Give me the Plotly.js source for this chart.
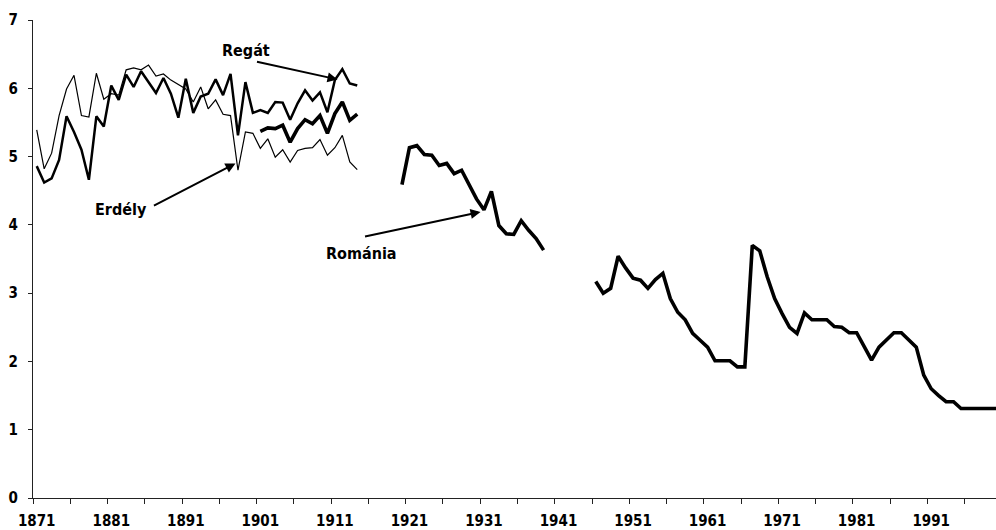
<!DOCTYPE html>
<html>
<head>
<meta charset="utf-8">
<script src="https://cdn.plot.ly/plotly-3.0.1.min.js"></script>
<style>
html,body{margin:0;padding:0;overflow:hidden;background:#fff;}
#chart{width:1007px;height:530px;}
</style>
</head>
<body>
<div id="chart"></div>
<script>
// Data
const startYearEarly = 1871;
const regat = [4.86,4.62,4.68,4.95,5.59,5.36,5.10,4.66,5.59,5.44,
  6.04,5.83,6.20,6.02,6.25,6.09,5.93,6.15,5.92,5.57,
  6.14,5.64,5.88,5.92,6.13,5.90,6.21,5.31,6.09,5.64,
  5.68,5.64,5.80,5.79,5.54,5.78,5.97,5.82,5.94,5.65,
  6.12,6.28,6.07,6.04];
const erdely = [5.39,4.82,5.05,5.60,5.99,6.19,5.60,5.58,6.22,5.84,
  5.92,5.90,6.27,6.30,6.27,6.34,6.18,6.21,6.12,6.05,
  5.99,5.80,6.02,5.70,5.83,5.62,5.60,4.80,5.36,5.34,
  5.12,5.26,4.99,5.10,4.92,5.09,5.12,5.13,5.25,5.02,
  5.13,5.31,4.92,4.81];
const startYearRomania = 1901;
const romania = [
  5.37,5.42,5.41,5.46,5.21,5.41,5.54,5.48,5.60,5.34,5.63,5.80,5.53,5.62,
  null,null,null,null,null,
  4.59,5.13,5.16,5.03,5.02,4.87,4.90,4.75,4.80,4.60,4.38,4.22,4.49,3.99,3.87,3.86,4.06,3.92,3.80,3.63,
  null,null,null,null,null,null,
  3.17,3.00,3.07,3.54,3.37,3.22,3.19,3.07,3.20,3.29,
  2.92,2.72,2.61,2.41,2.31,2.21,2.01,2.01,2.01,1.92,
  1.92,3.70,3.62,3.24,2.92,2.70,2.50,2.41,2.71,2.61,
  2.61,2.61,2.51,2.50,2.42,2.42,2.22,2.02,2.21,2.31,
  2.42,2.42,2.31,2.21,1.80,1.60,1.50,1.41,1.41,1.31,
  1.31,1.31,1.31,1.31,1.31];
const tickLabels = ['1871','1881','1891','1901','1911','1921','1931','1941','1951','1961','1971','1981','1991'];

const yearsEarly = regat.map((_, i) => startYearEarly + i);
const yearsRomania = romania.map((_, i) => startYearRomania + i);

const traces = [
  {x: yearsEarly, y: erdely, type:'scatter', mode:'lines', name:'Erdély',
   line:{color:'#000', width:1.2}, hoverinfo:'skip'},
  {x: yearsEarly, y: regat, type:'scatter', mode:'lines', name:'Regát',
   line:{color:'#000', width:2.5}, hoverinfo:'skip'},
  {x: yearsRomania, y: romania, type:'scatter', mode:'lines', name:'Románia',
   line:{color:'#000', width:3.6}, connectgaps:false, hoverinfo:'skip'}
];

const fam = 'DejaVu Sans Condensed, DejaVu Sans, Verdana, sans-serif';
const bold = {family:fam, size:15, color:'#000', weight:'bold'};
const annFont = {family:fam, size:16, color:'#000', weight:'bold'};

const layout = {
  width:1007, height:530,
  margin:{l:33, r:5, t:20, b:32},
  paper_bgcolor:'#fff', plot_bgcolor:'#fff',
  showlegend:false,
  font:bold,
  xaxis:{
    range:[1870.5, 2000.5], showgrid:false, zeroline:false,
    showline:true, linecolor:'#222', linewidth:1,
    tickmode:'array', tickvals: tickLabels.map(Number), ticktext: tickLabels,
    ticks:'', tickfont:bold, ticklabelstandoff:9,
    minor:{ticks:'outside', ticklen:5, tickcolor:'#222', tickwidth:1, tickmode:'linear', tick0:1870.5, dtick:5, showgrid:false}
  },
  yaxis:{
    range:[0,7], dtick:1, tick0:0, showgrid:false, zeroline:false,
    showline:true, linecolor:'#222', linewidth:1,
    ticks:'outside', ticklen:4, tickcolor:'#222', tickfont:bold, ticklabelstandoff:7
  },
  annotations:[
    {xref:'paper', yref:'paper', x:(246-33)/969, y:(498-50)/478, text:'Regát', showarrow:false, font:annFont, xanchor:'center', yanchor:'middle'},
    {xref:'paper', yref:'paper', x:(121-33)/969, y:(498-209)/478, text:'Erdély', showarrow:false, font:annFont, xanchor:'center', yanchor:'middle'},
    {xref:'paper', yref:'paper', x:(361-33)/969, y:(498-253)/478, text:'Románia', showarrow:false, font:annFont, xanchor:'center', yanchor:'middle'},
    {x:1911.35, y:6.13, text:'', showarrow:true, axref:'pixel', ayref:'pixel', ax:-82, ay:-18, arrowhead:2, arrowsize:1, arrowwidth:2, arrowcolor:'#000', standoff:0},
    {x:1897.66, y:4.90, text:'', showarrow:true, axref:'pixel', ayref:'pixel', ax:-83, ay:43, arrowhead:2, arrowsize:1, arrowwidth:2, arrowcolor:'#000', standoff:0},
    {x:1930.54, y:4.19, text:'', showarrow:true, axref:'pixel', ayref:'pixel', ax:-117, ay:25, arrowhead:2, arrowsize:1, arrowwidth:2, arrowcolor:'#000', standoff:0}
  ]
};

Plotly.newPlot('chart', traces, layout, {staticPlot:true, displayModeBar:false});
</script>
</body>
</html>
